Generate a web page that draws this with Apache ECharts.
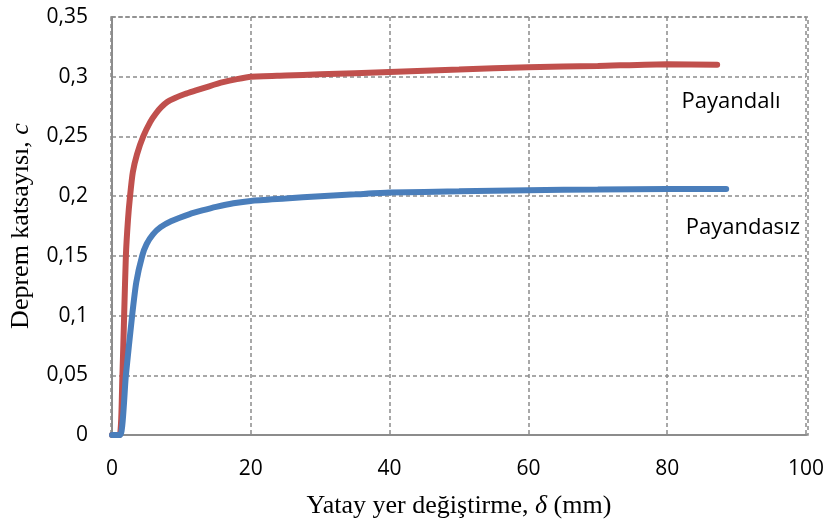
<!DOCTYPE html>
<html>
<head>
<meta charset="utf-8">
<script src="https://cdn.jsdelivr.net/npm/echarts@6/dist/echarts.min.js"></script>
<style>
    html, body { margin: 0; padding: 0; background: #fff; }
    #chart { width: 827px; height: 525px; }
</style>
</head>
<body>
<div id="chart"></div>
<script>
// Payandalı (red)
const payandaliX = [0, 1.1, 1.5, 1.75, 2.0, 2.3, 2.6, 3.0, 3.6, 4.5, 5.5, 6.3, 7.1, 8, 9, 10.5, 12.1, 14, 16, 18, 20, 25, 30, 40, 50, 60, 70, 80, 87.2];
const payandaliY = [0, 0, 0.05, 0.1, 0.15, 0.18, 0.2, 0.22, 0.235, 0.25, 0.262, 0.269, 0.2745, 0.279, 0.282, 0.2855, 0.2885, 0.292, 0.2954, 0.298, 0.3, 0.301, 0.302, 0.304, 0.306, 0.308, 0.309, 0.3105, 0.31];

// Payandasız (blue)
const payandasizX = [0, 1.2, 2.0, 2.9, 3.5, 4.35, 5.0, 5.9, 7, 8.5, 11.2, 13, 15, 17.5, 20, 25, 30, 35, 40, 50, 60, 70, 80, 88.5];
const payandasizY = [0, 0, 0.05, 0.1, 0.128, 0.15, 0.16, 0.168, 0.174, 0.179, 0.185, 0.188, 0.191, 0.194, 0.196, 0.198, 0.2, 0.2015, 0.203, 0.204, 0.205, 0.2055, 0.206, 0.206];

const labelPayandali = { name: "Payandalı", coord: [89.2, 0.2788] };
const labelPayandasiz = { name: "Payandasız", coord: [90.9, 0.1733] };

const zip = (xs, ys) => xs.map((x, i) => [x, ys[i]]);

const chart = echarts.init(document.getElementById("chart"));

const gridLine = { show: true, lineStyle: { color: "#8c8c8c", type: [4, 3], width: 1.5 } };
const sansLabel = { color: "#000", fontFamily: "Open Sans", fontSize: 21 };
const serifRich = {
    n: { fontFamily: "Liberation Serif", fontSize: 26, color: "#000" },
    i: { fontFamily: "Liberation Serif", fontSize: 26, fontStyle: "italic", color: "#000" }
};

function textMark(item) {
    return {
        symbol: "circle",
        symbolSize: 1,
        itemStyle: { color: "rgba(0,0,0,0)" },
        data: [{
            coord: item.coord,
            label: {
                show: true,
                formatter: item.name,
                position: "inside",
                color: "#000",
                fontFamily: "Open Sans",
                fontSize: 22
            }
        }]
    };
}

const option = {
    animation: false,
    grid: { left: 111, right: 19, top: 17, bottom: 90 },
    xAxis: {
        type: "value",
        min: 0,
        max: 100,
        interval: 20,
        name: "{n|Yatay yer değiştirme, }{i|δ}{n| (mm)}",
        nameLocation: "middle",
        nameGap: 58,
        nameTextStyle: { rich: serifRich },
        axisLine: { lineStyle: { color: "#8c8c8c", width: 2 } },
        axisTick: { show: false },
        axisLabel: Object.assign({ margin: 24 }, sansLabel),
        splitLine: gridLine
    },
    yAxis: {
        type: "value",
        min: 0,
        max: 0.35,
        interval: 0.05,
        name: "{n|Deprem katsayısı, }{i|c}",
        nameLocation: "middle",
        nameGap: 78,
        nameTextStyle: { rich: serifRich },
        axisLine: { show: true, lineStyle: { color: "#8c8c8c", width: 2 } },
        axisTick: { show: false },
        axisLabel: Object.assign({
            margin: 24,
            formatter: v => String(Math.round(v * 100) / 100).replace(".", ",")
        }, sansLabel),
        splitLine: gridLine
    },
    graphic: [{
        type: "rect",
        shape: { x: 111, y: 17, width: 697, height: 418 },
        style: { fill: "none", stroke: "#8c8c8c", lineWidth: 1.5, lineDash: [4, 3] },
        silent: true
    }],
    series: [
        {
            name: "Payandalı",
            type: "line",
            data: zip(payandaliX, payandaliY),
            smooth: 0.2,
            showSymbol: false,
            lineStyle: { color: "#C0504D", width: 6, cap: "round" },
            markPoint: textMark(labelPayandali)
        },
        {
            name: "Payandasız",
            type: "line",
            data: zip(payandasizX, payandasizY),
            smooth: 0.2,
            showSymbol: false,
            lineStyle: { color: "#4A7EBB", width: 6, cap: "round" },
            markPoint: textMark(labelPayandasiz)
        }
    ]
};

chart.setOption(option);
</script>
</body>
</html>
